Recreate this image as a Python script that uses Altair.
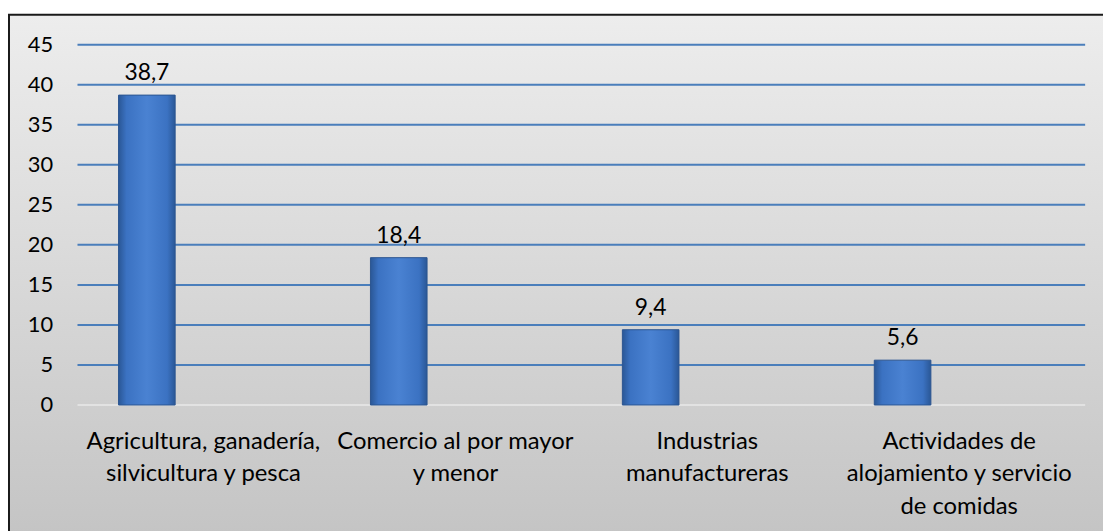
import altair as alt
import pandas as pd

# ---- data ----
categories = [
    "Agricultura, ganadería,\nsilvicultura y pesca",
    "Comercio al por mayor\ny menor",
    "Industrias\nmanufactureras",
    "Actividades de\nalojamiento y servicio\nde comidas",
]
values = [38.7, 18.4, 9.4, 5.6]
value_labels = ["38,7", "18,4", "9,4", "5,6"]
series_slots = ["Serie 1", "Serie 2", "Serie 3"]  # only the first slot holds data
y_ticks = [0, 5, 10, 15, 20, 25, 30, 35, 40, 45]
grid_ticks = [5, 10, 15, 20, 25, 30, 35, 40, 45]

FONT = "Lato"
W, H = 1015, 363

bars_df = pd.DataFrame({
    "cat": categories,
    "val": values,
    "lab": value_labels,
    "serie": [series_slots[0]] * len(categories),
})
grid_df = pd.DataFrame({"val": grid_ticks})
zero_df = pd.DataFrame({"val": [0]})
bg_df = pd.DataFrame({"k": [0]})

x_enc = alt.X(
    "cat:N",
    sort=categories,
    scale=alt.Scale(paddingInner=0.326, paddingOuter=0.163),
    axis=alt.Axis(
        title=None, labelAngle=0, labelFontSize=24, labelFont=FONT,
        labelColor="#000000", labelLineHeight=32.5, labelPadding=25,
        labelLimit=400, labelOverlap=False,
        labelExpr="split(datum.label, '\\n')",
        ticks=False, domain=False, grid=False, zindex=1,
    ),
)
y_scale = alt.Scale(domain=[0, 45], nice=False)
y_axis = alt.Axis(
    title=None, values=y_ticks, labelFontSize=22, labelFont=FONT,
    labelColor="#000000", labelPadding=25, ticks=False, domain=False,
    grid=False, zindex=1,
)
y_enc = alt.Y("val:Q", scale=y_scale, axis=y_axis)
xoff = alt.XOffset("serie:N", scale=alt.Scale(domain=series_slots, paddingInner=0, paddingOuter=0))

background = alt.Chart(bg_df).mark_rect(
    fill=alt.Gradient(
        gradient="linear", x1=0, x2=0, y1=0, y2=1,
        stops=[alt.GradientStop(offset=0, color="#ededed"),
               alt.GradientStop(offset=1, color="#c2c2c2")],
    ),
    stroke="#1a1a1a", strokeWidth=2,
).encode(
    x=alt.value(-69), x2=alt.value(W + 60),
    y=alt.value(-30), y2=alt.value(H + 160),
)

grid = alt.Chart(grid_df).mark_rule(color="#4a7ebb", strokeWidth=2).encode(y=y_enc)
zero = alt.Chart(zero_df).mark_rule(color="#e2e2e2", strokeWidth=2).encode(y=y_enc)

bars = alt.Chart(bars_df).mark_bar(
    fill=alt.Gradient(
        gradient="linear", x1=0, x2=1, y1=0, y2=0,
        stops=[alt.GradientStop(offset=0, color="#2a5796"),
               alt.GradientStop(offset=0.14, color="#3b72c2"),
               alt.GradientStop(offset=0.5, color="#4a82d2"),
               alt.GradientStop(offset=0.86, color="#3b72c2"),
               alt.GradientStop(offset=1, color="#2a5796")],
    ),
    stroke="#2b5590", strokeWidth=1,
).encode(x=x_enc, y=y_enc, xOffset=xoff)

labels = alt.Chart(bars_df).mark_text(
    font=FONT, fontSize=23, color="#000000", baseline="alphabetic", dy=-15,
).encode(x=x_enc, y=y_enc, xOffset=xoff, text="lab:N")

chart = alt.layer(background, grid, zero, bars, labels).properties(
    width=W, height=H,
    padding={"left": 70, "top": 35, "right": 18, "bottom": 125},
    autosize=alt.AutoSizeParams(type="none"),
).configure_view(stroke=None).configure(background="white")

chart.save("out.html", embed_options={"renderer": "svg", "actions": False})
